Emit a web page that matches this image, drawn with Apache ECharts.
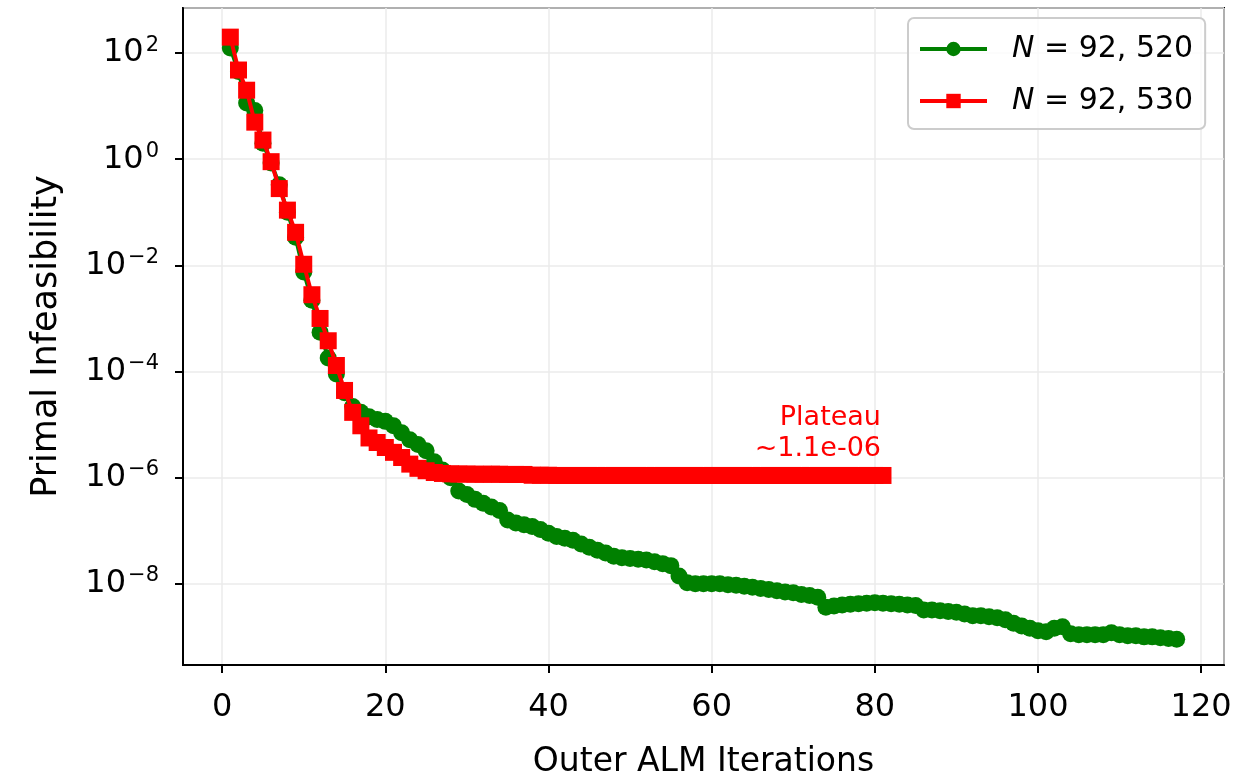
<!DOCTYPE html>
<html>
<head>
<meta charset="utf-8">
<script src="https://cdn.jsdelivr.net/npm/echarts@6/dist/echarts.min.js"></script>
<style>
  html, body { margin: 0; padding: 0; background: #fff; }
  #chart { width: 1256px; height: 778px; }
</style>
</head>
<body>
<div id="chart"></div>
<script>
// series names as shown in the legend
const greenName = 'N = 92, 520';
const redName = 'N = 92, 530';

// primal infeasibility per outer ALM iteration (iteration = index + 1)
const greenValues = [
  125, 45, 11.5, 8.3, 2.0, 0.85, 0.33, 0.1, 0.034, 0.0075,
  0.0022, 5.5e-4, 1.8e-4, 9e-5, 4e-5, 2.2e-5, 1.7e-5, 1.4e-5, 1.25e-5, 1.15e-5,
  9.5e-6, 7e-6, 5.2e-6, 4.2e-6, 3.2e-6, 2.0e-6, 1.4e-6, 1.0e-6, 5.6e-7, 4.8e-7,
  3.9e-7, 3.3e-7, 2.8e-7, 2.4e-7, 1.6e-7, 1.4e-7, 1.3e-7, 1.2e-7, 1.05e-7, 9e-8,
  7.8e-8, 7.2e-8, 6.6e-8, 5.6e-8, 4.9e-8, 4.3e-8, 3.8e-8, 3.3e-8, 3.1e-8, 3.0e-8,
  2.9e-8, 2.8e-8, 2.6e-8, 2.4e-8, 2.2e-8, 1.4e-8, 1.05e-8, 1.0e-8, 1.0e-8, 1.0e-8,
  1.0e-8, 9.6e-9, 9.4e-9, 9.0e-9, 8.6e-9, 8.2e-9, 7.8e-9, 7.4e-9, 7.0e-9, 6.8e-9,
  6.3e-9, 6.0e-9, 5.6e-9, 3.6e-9, 3.8e-9, 4.0e-9, 4.1e-9, 4.2e-9, 4.3e-9, 4.4e-9,
  4.3e-9, 4.2e-9, 4.1e-9, 4.0e-9, 3.9e-9, 3.2e-9, 3.2e-9, 3.1e-9, 3.0e-9, 2.9e-9,
  2.7e-9, 2.5e-9, 2.5e-9, 2.4e-9, 2.3e-9, 2.1e-9, 1.8e-9, 1.6e-9, 1.45e-9, 1.3e-9,
  1.25e-9, 1.45e-9, 1.55e-9, 1.15e-9, 1.1e-9, 1.1e-9, 1.1e-9, 1.1e-9, 1.2e-9, 1.1e-9,
  1.05e-9, 1.05e-9, 1.0e-9, 1.0e-9, 9.6e-10, 9.3e-10, 9.0e-10
];
const redValues = [
  200, 48, 20, 5, 2.3, 0.9, 0.28, 0.11, 0.042, 0.0105,
  0.0028, 1.0e-3, 3.8e-4, 1.3e-4, 4.4e-5, 1.7e-5, 9.5e-6, 5.6e-6, 4.6e-6, 3.7e-6,
  3.0e-6, 2.4e-6, 1.8e-6, 1.5e-6, 1.35e-6, 1.25e-6, 1.2e-6, 1.18e-6, 1.17e-6, 1.17e-6,
  1.16e-6, 1.16e-6, 1.16e-6, 1.16e-6, 1.15e-6, 1.15e-6, 1.15e-6, 1.11e-6, 1.11e-6, 1.11e-6,
  1.1e-6, 1.1e-6, 1.1e-6, 1.1e-6, 1.1e-6, 1.1e-6, 1.1e-6, 1.1e-6, 1.1e-6, 1.1e-6,
  1.1e-6, 1.1e-6, 1.1e-6, 1.1e-6, 1.1e-6, 1.1e-6, 1.1e-6, 1.1e-6, 1.1e-6, 1.1e-6,
  1.1e-6, 1.1e-6, 1.1e-6, 1.1e-6, 1.1e-6, 1.1e-6, 1.1e-6, 1.1e-6, 1.1e-6, 1.1e-6,
  1.1e-6, 1.1e-6, 1.1e-6, 1.1e-6, 1.1e-6, 1.1e-6, 1.1e-6, 1.1e-6, 1.1e-6, 1.1e-6,
  1.1e-6
];

// axis ranges (log10 of values on y)
const xRange = [-4.8, 122.8];
const yLogRange = [-9.53, 2.85];
const plateauText = 'Plateau\n~1.1e-06';

const font = 'DejaVu Sans';

// pair each value with its iteration number, y on log10 scale
const toPoints = vals => vals.map((v, i) => [i + 1, Math.log10(v)]);

const chart = echarts.init(document.getElementById('chart'));

const option = {
  animation: false,
  backgroundColor: '#fff',
  textStyle: { fontFamily: font },
  grid: {
    left: 183, right: 32, top: 8, bottom: 113,
    outerBoundsMode: 'none',
    containLabel: false,
    show: true,
    borderColor: '#000',
    borderWidth: 2,
  },
  legend: {
    orient: 'vertical',
    left: 908,
    top: 18,
    padding: [16, 12, 13, 10],
    itemGap: 22,
    itemWidth: 67,
    itemHeight: 18,
    backgroundColor: 'rgba(255,255,255,0.8)',
    borderColor: '#cccccc',
    borderWidth: 2,
    borderRadius: 6,
    lineStyle: { width: 4 },
    data: [greenName, redName],
    formatter: name => '{i|N}' + name.slice(1),
    textStyle: {
      fontFamily: font,
      fontSize: 30,
      color: '#000',
      padding: [0, 0, 0, 20],
      rich: {
        i: { fontFamily: font, fontSize: 30, fontStyle: 'italic', color: '#000' },
      },
    },
  },
  xAxis: {
    type: 'value',
    min: xRange[0],
    max: xRange[1],
    splitNumber: 6,
    name: 'Outer ALM Iterations',
    nameLocation: 'middle',
    nameGap: 81,
    nameTextStyle: { fontFamily: font, fontSize: 33, color: '#000' },
    axisLine: { show: true, onZero: false, lineStyle: { color: '#000', width: 2 } },
    axisTick: { show: true, inside: false, length: 8, lineStyle: { color: '#000', width: 2 } },
    axisLabel: {
      showMinLabel: false,
      showMaxLabel: false,
      margin: 27,
      fontFamily: font,
      fontSize: 32,
      color: '#000',
    },
    splitLine: { show: true, lineStyle: { color: '#ebebeb', width: 1.5 } },
  },
  yAxis: {
    type: 'value',
    min: yLogRange[0],
    max: yLogRange[1],
    splitNumber: 6,
    name: 'Primal Infeasibility',
    nameLocation: 'middle',
    nameGap: 119,
    nameTextStyle: { fontFamily: font, fontSize: 35, color: '#000' },
    axisLine: { show: true, onZero: false, lineStyle: { color: '#000', width: 2 } },
    axisTick: { show: true, inside: false, length: 8, lineStyle: { color: '#000', width: 2 } },
    axisLabel: {
      showMinLabel: false,
      showMaxLabel: false,
      margin: 24,
      fontFamily: font,
      fontSize: 32,
      color: '#000',
      formatter: v => {
        const e = Math.round(v);
        if (Math.abs(v - e) > 1e-6) return '';
        return '{base|10}{sup|' + String(e).replace('-', '\u2212') + '}';
      },
      rich: {
        base: { fontFamily: font, fontSize: 32, color: '#000' },
        sup: { fontFamily: font, fontSize: 21, color: '#000', padding: [0, 0, 16, 2] },
      },
    },
    splitLine: { show: true, lineStyle: { color: '#ebebeb', width: 1.5 } },
  },
  series: [
    {
      name: greenName,
      type: 'line',
      data: toPoints(greenValues),
      symbol: 'circle',
      symbolSize: 17,
      showAllSymbol: true,
      color: '#008000',
      lineStyle: { width: 4, color: '#008000' },
      itemStyle: { color: '#008000' },
      z: 2,
    },
    {
      name: redName,
      type: 'line',
      data: toPoints(redValues),
      symbol: 'rect',
      symbolSize: 17,
      showAllSymbol: true,
      color: '#ff0000',
      lineStyle: { width: 4, color: '#ff0000' },
      itemStyle: { color: '#ff0000' },
      z: 3,
      markPoint: {
        symbol: 'circle',
        symbolSize: 1,
        itemStyle: { color: 'rgba(0,0,0,0)' },
        label: {
          show: true,
          formatter: plateauText,
          position: 'top',
          align: 'right',
          offset: [-2, -5],
          color: '#ff0000',
          fontFamily: font,
          fontSize: 27,
          lineHeight: 31,
        },
        data: [{ coord: [redValues.length, Math.log10(redValues[redValues.length - 1])] }],
      },
    },
  ],
};

chart.setOption(option);
window.addEventListener('resize', () => {
  chart.resize();
});
</script>
</body>
</html>
